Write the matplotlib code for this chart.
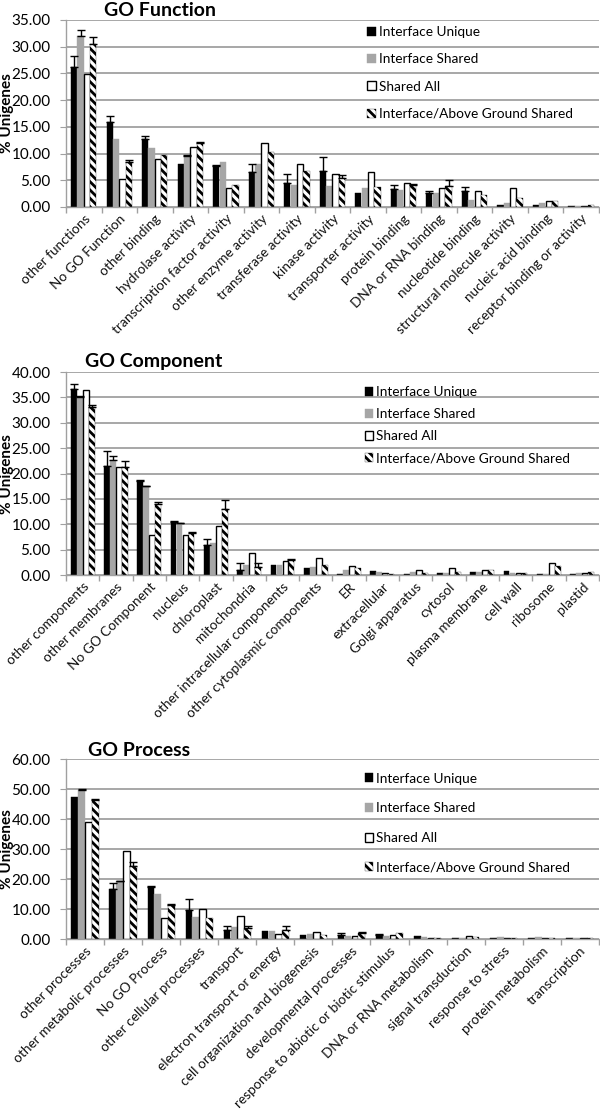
import matplotlib
matplotlib.use("Agg")
import matplotlib.pyplot as plt
import numpy as np
from matplotlib.ticker import FormatStrFormatter, FixedLocator

plt.rcParams['font.family'] = ['Lato', 'DejaVu Sans']
plt.rcParams['hatch.linewidth'] = 2.0
plt.rcParams['hatch.color'] = 'black'

series_names = ["Interface Unique", "Interface Shared", "Shared All",
                "Interface/Above Ground Shared"]

# ---------------- GO Function ----------------
func_cats = ["other functions", "No GO Function", "other binding", "hydrolase activity",
             "transcription factor activity", "other enzyme activity", "transferase activity",
             "kinase activity", "transporter activity", "protein binding", "DNA or RNA binding",
             "nucleotide binding", "structural molecule activity", "nucleic acid binding",
             "receptor binding or activity"]
func_unique = [26.2, 16.0, 12.8, 8.0, 7.6, 6.5, 4.5, 6.7, 2.7, 3.4, 2.6, 2.9, 0.4, 0.4, 0.1]
func_shared = [32.0, 12.8, 11.0, 9.5, 8.4, 8.0, 4.1, 3.9, 3.6, 3.1, 2.6, 1.3, 0.7, 0.7, 0.1]
func_all = [24.8, 5.3, 8.9, 11.2, 3.6, 12.0, 8.0, 6.1, 6.5, 4.4, 3.5, 3.0, 3.5, 1.2, 0.2]
func_above = [30.5, 8.5, 9.7, 12.0, 4.1, 10.2, 6.7, 5.4, 3.8, 4.2, 4.0, 2.2, 1.7, 1.2, 0.4]
func_unique_err = [2.1, 1.0, 0.5, 0.0, 0.3, 1.6, 1.6, 2.7, 0.0, 0.7, 0.4, 0.8, 0.0, 0.0, 0.0]
func_shared_err = [1.1, 0.0, 0.0, 0.2, 0.0, 0.0, 0.0, 0.0, 0.0, 0.0, 0.0, 0.0, 0.0, 0.0, 0.0]
func_all_err = [0.0] * 15
func_above_err = [1.3, 0.3, 0.0, 0.1, 0.0, 0.0, 0.0, 0.6, 0.0, 0.1, 1.0, 0.0, 0.0, 0.0, 0.0]

# ---------------- GO Component ----------------
comp_cats = ["other components", "other membranes", "No GO Component", "nucleus", "chloroplast",
             "mitochondria", "other intracellular components", "other cytoplasmic components",
             "ER", "extracellular", "Golgi apparatus", "cytosol", "plasma membrane",
             "cell wall", "ribosome", "plastid"]
comp_unique = [36.7, 21.5, 18.6, 10.5, 5.9, 1.0, 2.0, 1.3, 0.2, 0.8, 0.3, 0.5, 0.6, 0.8, 0.2, 0.2]
comp_shared = [35.1, 22.7, 17.5, 10.2, 6.4, 2.0, 2.0, 1.6, 0.9, 0.7, 0.6, 0.4, 0.6, 0.5, 0.3, 0.4]
comp_all = [36.5, 21.2, 7.9, 7.9, 9.7, 4.3, 2.8, 3.3, 1.8, 0.4, 1.0, 1.3, 0.9, 0.4, 2.3, 0.5]
comp_above = [33.2, 21.3, 14.1, 8.2, 13.1, 1.6, 3.0, 2.0, 1.3, 0.3, 0.5, 0.7, 0.9, 0.5, 1.7, 0.7]
comp_unique_err = [0.9, 3.0, 0.1, 0.1, 1.3, 1.3, 0.0, 0.0, 0.0, 0.0, 0.0, 0.0, 0.0, 0.0, 0.0, 0.0]
comp_shared_err = [0.2, 0.8, 0.1, 0.1, 0.0, 0.0, 0.0, 0.0, 0.0, 0.0, 0.0, 0.0, 0.0, 0.0, 0.0, 0.0]
comp_all_err = [0.0] * 16
comp_above_err = [0.3, 1.2, 0.2, 0.3, 1.7, 0.8, 0.1, 0.0, 0.0, 0.0, 0.0, 0.0, 0.0, 0.0, 0.0, 0.0]

# ---------------- GO Process ----------------
proc_cats = ["other processes", "other metabolic processes", "No GO Process",
             "other cellular processes", "transport", "electron transport or energy",
             "cell organization and biogenesis", "developmental processes",
             "response to abiotic or biotic stimulus", "DNA or RNA metabolism",
             "signal transduction", "response to stress", "protein metabolism", "transcription"]
proc_unique = [47.3, 16.8, 17.4, 9.7, 3.0, 2.8, 1.3, 1.5, 1.2, 1.0, 0.5, 0.5, 0.4, 0.2]
proc_shared = [49.6, 19.2, 14.9, 7.2, 4.0, 2.8, 1.7, 1.0, 0.9, 0.7, 0.5, 0.7, 0.6, 0.3]
proc_all = [39.0, 29.5, 7.1, 9.9, 7.8, 1.7, 2.3, 1.0, 1.5, 0.5, 1.0, 0.4, 0.3, 0.5]
proc_above = [46.4, 24.3, 11.3, 6.9, 3.8, 3.0, 1.5, 2.0, 1.9, 0.5, 0.8, 0.3, 0.5, 0.3]
proc_unique_err = [0.0, 1.9, 0.3, 3.5, 1.2, 0.0, 0.0, 0.5, 0.4, 0.0, 0.0, 0.0, 0.0, 0.0]
proc_shared_err = [0.3, 0.2, 0.0, 0.0, 0.0, 0.0, 0.0, 0.0, 0.0, 0.0, 0.0, 0.0, 0.0, 0.0]
proc_all_err = [0.0] * 14
proc_above_err = [0.2, 1.5, 0.3, 0.0, 0.5, 1.5, 0.0, 0.5, 0.0, 0.0, 0.0, 0.0, 0.0, 0.0]

panels = [
    dict(title="GO Function", cats=func_cats,
         vals=[func_unique, func_shared, func_all, func_above],
         errs=[func_unique_err, func_shared_err, func_all_err, func_above_err],
         ymax=35, ystep=5, rect=[0.110, 0.8137, 0.888, 0.1683],
         title_xy=(160, 10), leg_anchor=(0.545, 1.025), leg_space=1.12),
    dict(title="GO Component", cats=comp_cats,
         vals=[comp_unique, comp_shared, comp_all, comp_above],
         errs=[comp_unique_err, comp_shared_err, comp_all_err, comp_above_err],
         ymax=40, ystep=5, rect=[0.110, 0.4824, 0.888, 0.1827],
         title_xy=(154, 362), leg_anchor=(0.54, 0.985), leg_space=0.75),
    dict(title="GO Process", cats=proc_cats,
         vals=[proc_unique, proc_shared, proc_all, proc_above],
         errs=[proc_unique_err, proc_shared_err, proc_all_err, proc_above_err],
         ymax=60, ystep=10, rect=[0.110, 0.1548, 0.888, 0.1620],
         title_xy=(139, 750), leg_anchor=(0.54, 0.985), leg_space=1.3),
]

W, H = 600, 1111
fig = plt.figure(figsize=(W / 100, H / 100), dpi=100)

grid_col = "#a0a0a0"
styles = [
    dict(facecolor="black", edgecolor="black", linewidth=0.3),
    dict(facecolor="#a6a6a6", edgecolor="#a6a6a6", linewidth=0.3),
    dict(facecolor="white", edgecolor="black", linewidth=1.0),
    dict(facecolor="white", edgecolor="black", linewidth=0.2, hatch="\\\\\\\\"),
]
bw = 0.175

for p in panels:
    ax = fig.add_axes(p["rect"])
    n = len(p["cats"])
    x = np.arange(n)
    handles = []
    for k in range(4):
        off = (k - 1.5) * (bw + 0.005)
        vals = np.array(p["vals"][k])
        errs = np.array(p["errs"][k])
        b = ax.bar(x + off, vals, width=bw, label=series_names[k], zorder=2, **styles[k])
        handles.append(b)
        m = errs > 0
        if m.any():
            ax.errorbar(x[m] + off, vals[m], yerr=[np.zeros(m.sum()), errs[m]],
                        fmt="none", ecolor="black", elinewidth=1.0, capsize=3,
                        capthick=1.0, zorder=3)
    ax.set_xlim(-0.5, n - 0.5)
    ax.set_ylim(0, p["ymax"])
    ax.set_yticks(np.arange(0, p["ymax"] + 0.01, p["ystep"]))
    ax.yaxis.set_major_formatter(FormatStrFormatter("%.2f"))
    ax.set_axisbelow(True)
    ax.yaxis.grid(True, color=grid_col, linewidth=1.3)
    for s in ["top", "right"]:
        ax.spines[s].set_visible(False)
    for s in ["left", "bottom"]:
        ax.spines[s].set_color(grid_col)
        ax.spines[s].set_linewidth(1.0)
    ax.set_xticks(x)
    ax.set_xticklabels(p["cats"], rotation=45, ha="right", va="top",
                       rotation_mode="anchor", fontsize=9.8, color="#111111")
    ax.tick_params(axis="x", length=0, pad=4)
    ax.xaxis.set_minor_locator(FixedLocator(np.arange(-0.5, n, 1.0)))
    ax.tick_params(axis="x", which="minor", length=4, color=grid_col, width=1.0)
    ax.tick_params(axis="y", length=4, color=grid_col, labelsize=11, pad=7)
    ax.set_ylabel("% Unigenes", fontsize=11, fontweight="bold")
    ax.yaxis.set_label_coords(-0.098, 0.5)
    tx, ty = p["title_xy"]
    fig.text(tx / W, 1 - ty / H, p["title"], ha="center", va="center",
             fontsize=14, fontweight="bold")
    ax.legend(handles=handles, loc="upper left", bbox_to_anchor=p["leg_anchor"],
              frameon=False, fontsize=9.8, handlelength=0.65, handleheight=0.65,
              handletextpad=0.2, labelspacing=p["leg_space"], borderpad=0.3)

fig.savefig("out.png", dpi=100)
